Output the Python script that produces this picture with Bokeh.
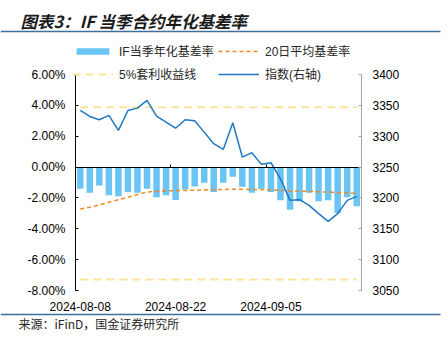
from bokeh.plotting import figure
from bokeh.models import (Range1d, LinearAxis, FixedTicker, PrintfTickFormatter,
                          Legend, LegendItem, Label, BoxAnnotation)
from bokeh.embed import file_html
from bokeh.resources import INLINE

# ---------------- data ----------------
dates = ["2024-08-08", "2024-08-09", "2024-08-12", "2024-08-13", "2024-08-14",
         "2024-08-15", "2024-08-16", "2024-08-19", "2024-08-20", "2024-08-21",
         "2024-08-22", "2024-08-23", "2024-08-26", "2024-08-27", "2024-08-28",
         "2024-08-29", "2024-08-30", "2024-09-02", "2024-09-03", "2024-09-04",
         "2024-09-05", "2024-09-06", "2024-09-09", "2024-09-10", "2024-09-11",
         "2024-09-12", "2024-09-13", "2024-09-18", "2024-09-19", "2024-09-20"]
basis = [-1.41, -1.67, -1.19, -1.82, -1.89, -1.61, -1.67, -1.41, -1.95, -1.82,
         -2.13, -1.45, -1.26, -1.02, -1.61, -1.02, -0.63, -1.28, -1.67, -1.41,
         -1.61, -2.15, -2.76, -2.21, -1.67, -2.21, -2.15, -2.98, -1.95, -2.54]
avg20 = [-2.72, -2.60, -2.45, -2.28, -2.12, -1.95, -1.78, -1.62, -1.56, -1.54,
         -1.53, -1.52, -1.50, -1.48, -1.47, -1.45, -1.44, -1.44, -1.45, -1.46,
         -1.48, -1.51, -1.54, -1.56, -1.58, -1.60, -1.62, -1.65, -1.68, -1.71]
index_vals = [3341.7, 3332.0, 3326.7, 3333.7, 3309.4, 3341.7, 3345.5, 3358.0, 3332.5, 3322.8,
              3313.0, 3326.7, 3325.0, 3306.6, 3287.9, 3278.6, 3321.8, 3266.2, 3273.3, 3254.4,
              3257.0, 3231.2, 3196.1, 3197.2, 3188.0, 3174.6, 3162.1, 3174.6, 3196.1, 3202.6]
arb_levels = [3.88, -7.29]
left_ticks = [-8, -6, -4, -2, 0, 2, 4, 6]
right_ticks = [3050, 3100, 3150, 3200, 3250, 3300, 3350, 3400]
date_ticks = ["2024-08-08", "2024-08-22", "2024-09-05"]

title_text = "图表3：IF 当季合约年化基差率"
source_text = "来源：iFinD，国金证券研究所"
names = ["IF当季年化基差率", "20日平均基差率", "5%套利收益线", "指数(右轴)"]

# ---------------- layout (pixel geometry of the plotting area) ----------------
W, H = 448, 339
FL, FR, FT, FB = 75, 361, 74, 290
n = len(dates)
x = list(range(n))

PX = (FR - FL) / n
x0 = -0.5 - FL / PX
x1 = x0 + W / PX
lo, hi = left_ticks[0], left_ticks[-1]
PY = (FB - FT) / (hi - lo)
y1 = hi + FT / PY
y0 = lo - (H - FB) / PY
rlo, rhi = right_ticks[0], right_ticks[-1]
RY = (FB - FT) / (rhi - rlo)
r1 = rhi + FT / RY
r0 = rlo - (H - FB) / RY

LAT = "Liberation Sans"
MIX = "Liberation Sans, Noto Sans CJK SC"
CJK = "Noto Sans CJK SC"

p = figure(width=W, height=H, output_backend="svg", toolbar_location=None,
           x_range=Range1d(x0, x1), y_range=Range1d(y0, y1),
           x_axis_type=None, y_axis_type=None,
           min_border_left=0, min_border_right=0, min_border_top=0, min_border_bottom=0)
p.extra_y_ranges = {"idx": Range1d(r0, r1)}
p.xgrid.visible = False
p.ygrid.visible = False
p.outline_line_color = None
p.background_fill_color = "white"
p.border_fill_color = "white"

# left axis (pinned at left edge of category area)
la = LinearAxis(ticker=FixedTicker(ticks=left_ticks), fixed_location=-0.5, bounds=(lo, hi))
la.formatter = PrintfTickFormatter(format="%.2f%%")
la.axis_line_color = "black"
la.major_tick_line_color = "black"
la.major_tick_in = 3
la.major_tick_out = 0
la.minor_tick_line_color = None
la.major_label_text_font = LAT
la.major_label_text_font_size = "12px"
la.major_label_text_color = "black"
la.major_label_standoff = 10
p.add_layout(la, "left")

# right axis (index)
ra = LinearAxis(y_range_name="idx", ticker=FixedTicker(ticks=right_ticks),
                fixed_location=n - 0.5, bounds=(rlo, rhi))
ra.axis_line_color = "#A6A6A6"
ra.major_tick_line_color = "#A6A6A6"
ra.major_tick_in = 3
ra.major_tick_out = 0
ra.minor_tick_line_color = None
ra.major_label_text_font = LAT
ra.major_label_text_font_size = "12px"
ra.major_label_text_color = "black"
ra.major_label_standoff = 11
p.add_layout(ra, "right")

# date labels at the bottom
tick_idx = [dates.index(d) for d in date_ticks]
ba = LinearAxis(ticker=FixedTicker(ticks=tick_idx), fixed_location=lo)
ba.major_label_overrides = {i: dates[i] for i in tick_idx}
ba.axis_line_color = None
ba.major_tick_line_color = None
ba.minor_tick_line_color = None
ba.major_label_text_font = LAT
ba.major_label_text_font_size = "12px"
ba.major_label_text_color = "black"
ba.major_label_standoff = 5
p.add_layout(ba, "below")

# category axis line crossing at 0, ticks between every 10 categories
bounds = [i - 0.5 for i in range(10, n + 1, 10)]
za = LinearAxis(ticker=FixedTicker(ticks=bounds), fixed_location=0, bounds=(-0.5, n - 0.5))
za.axis_line_color = "black"
za.axis_line_width = 1
za.major_tick_line_color = "black"
za.major_tick_in = 3
za.major_tick_out = 0
za.minor_tick_line_color = None
za.major_label_text_font_size = "0px"
za.major_label_text_alpha = 0
p.add_layout(za, "below")

# ---------------- glyphs ----------------
yellow = None
for lvl in arb_levels:
    yellow = p.line([x[0], x[-1]], [lvl, lvl], line_color="#FFE39A", line_width=2,
                    line_dash="8 5")
bars = p.vbar(x=x, top=basis, bottom=0, width=0.68, fill_color="#6AC4F4", line_color=None)
orange = p.line(x, avg20, line_color="#F08A24", line_width=1.5, line_dash="4 3")
idx_line = p.line(x, index_vals, y_range_name="idx", line_color="#1E78C2", line_width=1.5)

# ---------------- legends ----------------
def make_legend(items, top_px):
    return Legend(items=items, orientation="horizontal", location=(72, H - top_px - 14),
                  glyph_width=41, glyph_height=8, label_height=14, label_width=99,
                  label_standoff=6, spacing=0, padding=0, margin=0,
                  border_line_color=None, background_fill_alpha=0,
                  label_text_font=MIX, label_text_font_size="12px",
                  label_text_color="#262626")

leg1 = make_legend([LegendItem(label=names[0], renderers=[bars]),
                    LegendItem(label=names[1], renderers=[orange])], 45)
leg2 = make_legend([LegendItem(label=names[2], renderers=[yellow]),
                    LegendItem(label=names[3], renderers=[idx_line])], 68)
p.add_layout(leg1)
p.add_layout(leg2)

# ---------------- title, rules, source ----------------
p.add_layout(Label(x=20, y=H - 20, x_units="screen", y_units="screen",
                   text=title_text, text_font=CJK, text_font_style="bold italic",
                   text_font_size="16.5px", text_baseline="middle", text_color="#1a1a1a"))
for ry in (31, 314):
    p.add_layout(BoxAnnotation(left=0, right=440, top=H - ry + 0.8, bottom=H - ry - 0.8,
                               left_units="screen", right_units="screen",
                               top_units="screen", bottom_units="screen",
                               fill_color="#3E6E9A", fill_alpha=1, line_color=None))
p.add_layout(Label(x=18, y=H - 323, x_units="screen", y_units="screen",
                   text=source_text, text_font=CJK, text_font_size="12px",
                   text_baseline="middle", text_color="#262626"))

open("out.html", "w").write(file_html(p, INLINE))
